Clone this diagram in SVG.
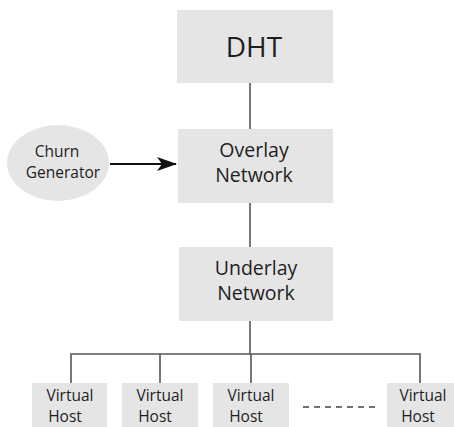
<svg xmlns="http://www.w3.org/2000/svg" width="454" height="427" viewBox="0 0 454 427">
  <defs>
    <style>
      .box { fill: #e5e5e5; }
      .lbl { font-family: "Open Sans", "DejaVu Sans", sans-serif; fill: #1e1e1e; text-anchor: middle; }
      .host { font-size: 15.5px; }
      .wire { stroke: #555; stroke-width: 1.6; fill: none; }
    </style>
    <marker id="arrow" viewBox="0 0 20 14" refX="19" refY="7" markerWidth="20" markerHeight="14" markerUnits="userSpaceOnUse" orient="auto">
      <path d="M0,0 L20,7 L0,14 L5,7 Z" fill="#111"/>
    </marker>
  </defs>
  <rect width="454" height="427" fill="#fff"/>

  <!-- connectors -->
  <g id="connectors">
    <line class="wire" x1="250" y1="83" x2="250" y2="129"/>
    <line class="wire" x1="250" y1="203" x2="250" y2="247"/>
    <line class="wire" x1="250" y1="321" x2="250" y2="354"/>
    <polyline class="wire" points="71,383 71,354 420,354 420,383"/>
    <line class="wire" x1="160" y1="354" x2="160" y2="383"/>
    <line class="wire" x1="251" y1="354" x2="251" y2="383"/>
    <line x1="110" y1="164" x2="176" y2="164" stroke="#111" stroke-width="2" marker-end="url(#arrow)"/>
    <line x1="303" y1="407" x2="376" y2="407" stroke="#444" stroke-width="1.6" stroke-dasharray="6,5"/>
  </g>

  <g id="dht">
    <rect class="box" x="177" y="10" width="156" height="73"/>
    <text class="lbl" x="254" y="57" font-size="28">DHT</text>
  </g>

  <g id="overlay">
    <rect class="box" x="178" y="129" width="155" height="74"/>
    <text class="lbl" x="254" y="157" font-size="19.5">Overlay</text>
    <text class="lbl" x="254" y="182" font-size="19.5">Network</text>
  </g>

  <g id="churn">
    <ellipse cx="58" cy="163" rx="51" ry="38" fill="#e5e5e5"/>
    <text class="lbl" x="57" y="157" font-size="15.5">Churn</text>
    <text class="lbl" x="63" y="178" font-size="15.5">Generator</text>
  </g>

  <g id="underlay">
    <rect class="box" x="179" y="247" width="154" height="74"/>
    <text class="lbl" x="256" y="275" font-size="19.5">Underlay</text>
    <text class="lbl" x="256" y="300" font-size="19.5">Network</text>
  </g>

  <g id="host1">
    <rect class="box" x="32" y="383" width="75" height="50"/>
    <text class="lbl host" x="70" y="401">Virtual</text>
    <text class="lbl host" x="65" y="422">Host</text>
  </g>
  <g id="host2">
    <rect class="box" x="122" y="383" width="76" height="50"/>
    <text class="lbl host" x="160" y="401">Virtual</text>
    <text class="lbl host" x="155" y="422">Host</text>
  </g>
  <g id="host3">
    <rect class="box" x="213" y="383" width="76" height="50"/>
    <text class="lbl host" x="251" y="401">Virtual</text>
    <text class="lbl host" x="246" y="422">Host</text>
  </g>
  <g id="host4">
    <rect class="box" x="387" y="383" width="75" height="50"/>
    <text class="lbl host" x="423" y="401">Virtual</text>
    <text class="lbl host" x="418" y="422">Host</text>
  </g>
</svg>
